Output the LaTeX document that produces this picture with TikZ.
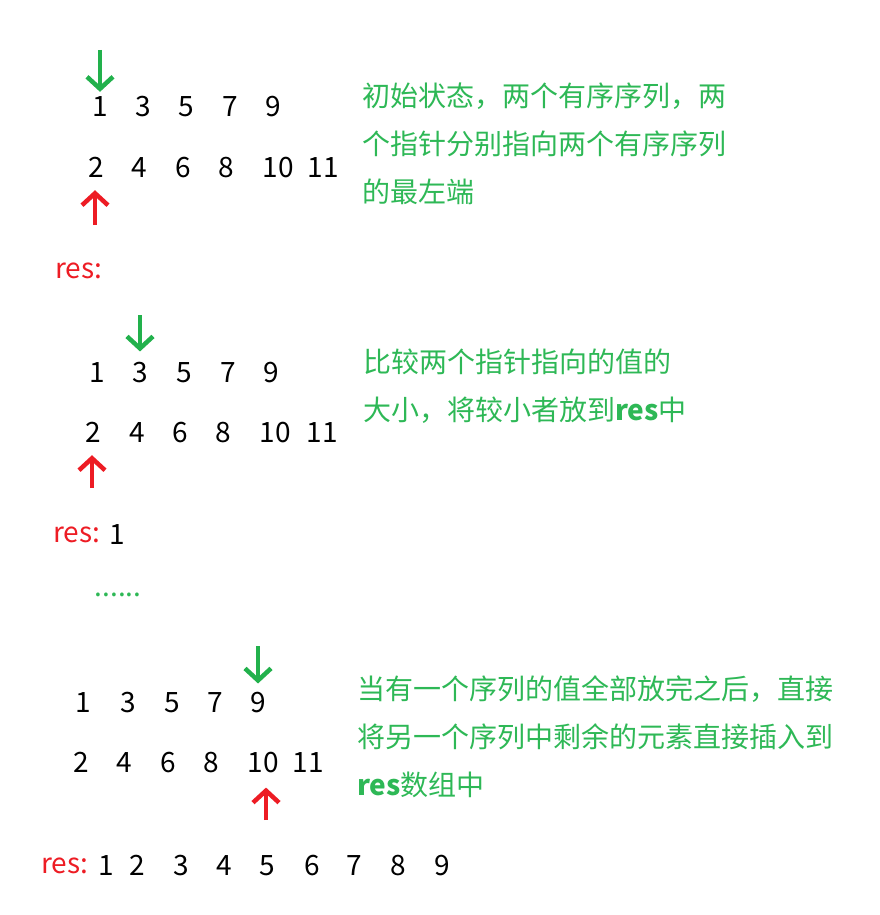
\documentclass[tikz,border=0pt]{standalone}
\usepackage{fontspec}
\setmainfont{Noto Sans CJK SC}
\usepackage{tikz}
\usetikzlibrary{
    arrows.meta,
    positioning,
    calc
}
\usepackage{xcolor}
\definecolor{ptrgreen}{RGB}{34,177,76}
\definecolor{notegreen}{RGB}{46,184,86}
\definecolor{ptrred}{RGB}{237,28,36}
\tikzstyle{num} = [
    font=\fontsize{28}{34}\selectfont,
    inner sep=0pt,
    anchor=base
]
\tikzstyle{reslabel} = [
    num,
    anchor=base west,
    text=ptrred
]
\tikzstyle{note} = [
    font=\fontsize{28}{48}\selectfont,
    text=notegreen,
    align=left,
    inner sep=0pt,
    anchor=base west
]
\tikzstyle{gptr} = [
    -{Straight Barb[length=12pt,width=26pt]},
    line width=4.5pt,
    draw=ptrgreen
]
\tikzstyle{rptr} = [
    -{Straight Barb[length=12pt,width=26pt]},
    line width=4.5pt,
    draw=ptrred
]

\begin{document}
\begin{tikzpicture}[x=1pt, y=-1pt]
        \useasboundingbox (0,0) rectangle (880,915);

        % Step 1: initial state
        \foreach \v/\x in {1/100,3/143,5/186,7/230,9/273}
            \node[num] (s1a\v) at (\x,117) {\v};
        \foreach \v/\x in {2/96,4/139,6/183,8/226,10/278,11/323}
            \node[num] (s1b\v) at (\x,177) {\v};
        \coordinate (g1) at (100,50);
        \coordinate (r1) at (95,225);
        \draw[gptr] (g1) -- ($(g1 |- s1a1.north)+(0,-5)$);
        \draw[rptr] (r1) -- ($(r1 |- s1b2.south)+(0,13)$);
        \node[reslabel] (res1) at (55,278) {res:};
        \node[note] (note1) at (362,202) {初始状态，两个有序序列，两\\个指针分别指向两个有序序列\\的最左端};

        % Step 2: compare and move the smaller one
        \foreach \v/\x in {1/97,3/140,5/184,7/228,9/271}
            \node[num] (s2a\v) at (\x,382) {\v};
        \foreach \v/\x in {2/93,4/137,6/180,8/223,10/275,11/322}
            \node[num] (s2b\v) at (\x,442) {\v};
        \coordinate (g2) at (140,315);
        \coordinate (r2) at (92,488);
        \draw[gptr] (g2) -- ($(g2 |- s2a3.north)+(0,-10)$);
        \draw[rptr] (r2) -- ($(r2 |- s2b2.south)+(0,13)$);
        \node[reslabel] (res2) at (53,542) {res:};
        \node[num] (s2r1) at (117,544) {1};
        \node[note] (note2) at (363,420) {比较两个指针指向的值的\\大小，将较小者放到\textbf{res}中};

        \node[num, text=notegreen] (more) at (118,596) {......};

        % Step 3: copy the rest
        \foreach \v/\x in {1/83,3/128,5/172,7/215,9/258}
            \node[num] (s3a\v) at (\x,712) {\v};
        \foreach \v/\x in {2/81,4/124,6/168,8/211,10/263,11/308}
            \node[num] (s3b\v) at (\x,772) {\v};
        \coordinate (g3) at (258,646);
        \coordinate (r3) at (266,820);
        \draw[gptr] (g3) -- ($(g3 |- s3a9.north)+(0,-8)$);
        \draw[rptr] (r3) -- ($(r3 |- s3b10.south)+(0,15)$);
        \node[reslabel] (res3) at (41,873) {res:};
        \foreach \v/\x in {1/106,2/137,3/181,4/224,5/267,6/312,7/354,8/398,9/442}
            \node[num] (s3r\v) at (\x,875) {\v};
        \node[note] (note3) at (357,795) {当有一个序列的值全部放完之后，直接\\将另一个序列中剩余的元素直接插入到\\\textbf{res}数组中};
    \end{tikzpicture}
\end{document}
